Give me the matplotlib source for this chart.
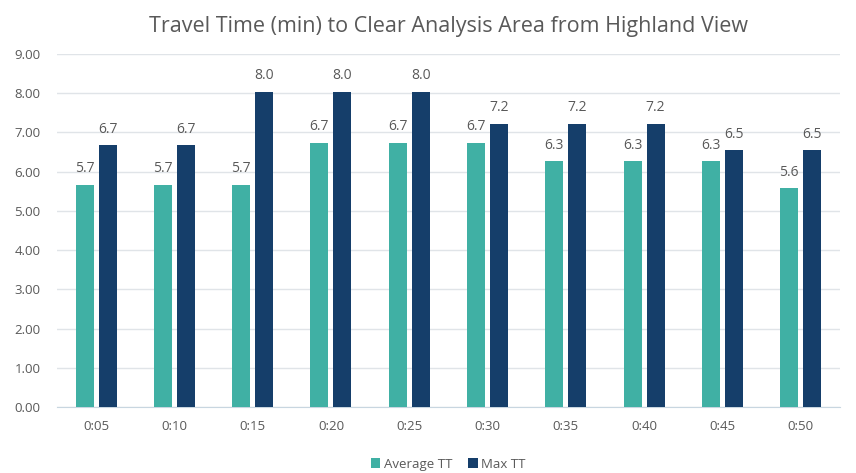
import matplotlib
matplotlib.use("Agg")
import matplotlib.pyplot as plt
import numpy as np

plt.rcParams['font.family'] = ['Open Sans', 'DejaVu Sans']

# travel times (min) per departure offset
times = ["0:05", "0:10", "0:15", "0:20", "0:25", "0:30", "0:35", "0:40", "0:45", "0:50"]
avg_tt = [5.67, 5.67, 5.67, 6.73, 6.73, 6.73, 6.26, 6.26, 6.26, 5.57]
max_tt = [6.67, 6.67, 8.03, 8.03, 8.03, 7.22, 7.22, 7.22, 6.54, 6.54]

TEAL = "#40b0a4"
NAVY = "#153e6a"
GREY = "#595959"

fig = plt.figure(figsize=(8.56, 4.73), dpi=100)
ax = fig.add_axes([0.0666, 0.1395, 0.9144, 0.7465])

x = np.arange(len(times))
w = 0.23
off = 0.147
b1 = ax.bar(x - off, avg_tt, w, color=TEAL, label="Average TT", zorder=3)
b2 = ax.bar(x + off, max_tt, w, color=NAVY, label="Max TT", zorder=3)

for bars, vals in ((b1, avg_tt), (b2, max_tt)):
    for r, v in zip(bars, vals):
        ax.text(r.get_x() + r.get_width() / 2, v + 0.22, f"{v:.1f}",
                ha="center", va="bottom", fontsize=10, color=GREY)

ax.set_xlim(-0.5, len(times) - 0.5)
ax.set_ylim(0, 9)
ax.set_yticks(np.arange(0, 10, 1))
ax.set_yticklabels([f"{t:.2f}" for t in np.arange(0, 10, 1)])
ax.set_xticks(x)
ax.set_xticklabels(times)
ax.tick_params(axis="both", length=0, labelsize=9.5, colors=GREY)
ax.tick_params(axis="x", pad=9)
ax.tick_params(axis="y", pad=12)

ax.grid(axis="y", color="#e0e4e8", linewidth=1, zorder=0)
for s in ("top", "right", "left"):
    ax.spines[s].set_visible(False)
ax.spines["bottom"].set_color("#c8d6e0")

ax.set_title("Travel Time (min) to Clear Analysis Area from Highland View",
             fontsize=15.5, color=GREY, pad=16)

ax.legend(loc="upper center", bbox_to_anchor=(0.5, -0.11), ncol=2, frameon=False,
          fontsize=9.5, labelcolor=GREY, handlelength=0.7, handleheight=0.7,
          handletextpad=0.3, columnspacing=1.2)

fig.savefig("out.png", dpi=100)
